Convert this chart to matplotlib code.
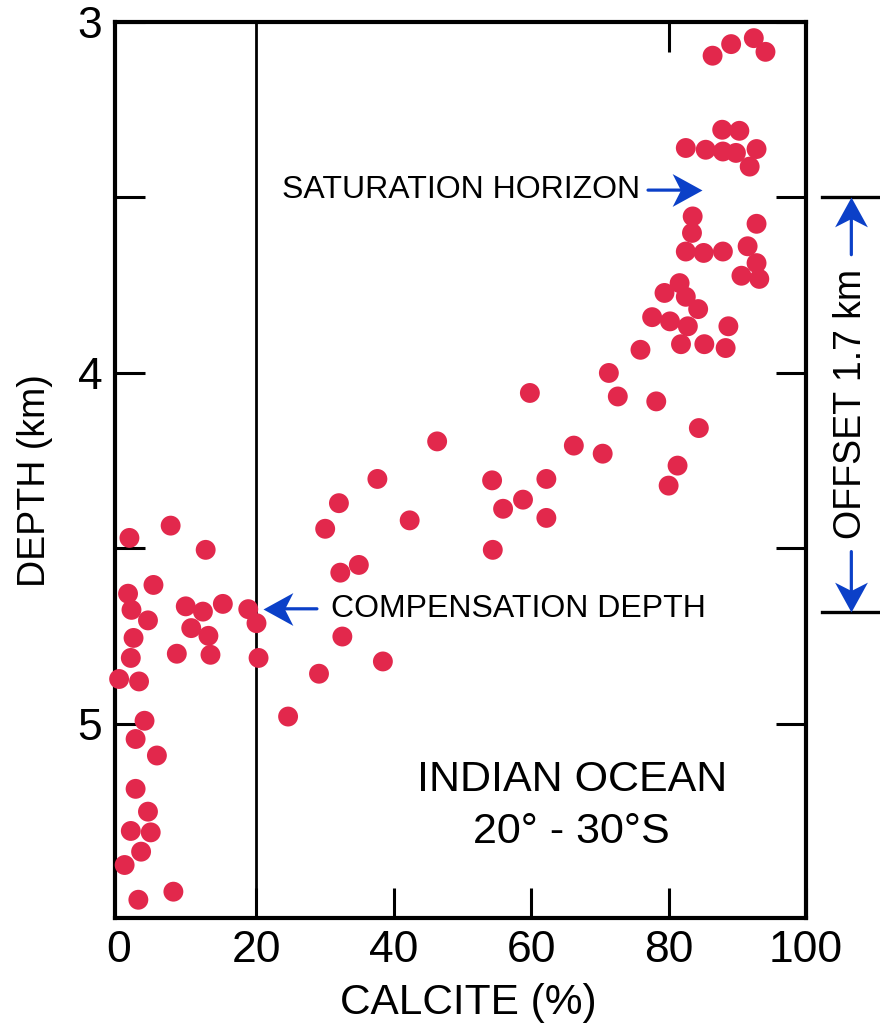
import matplotlib
matplotlib.use("Agg")
import matplotlib.pyplot as plt
from matplotlib.path import Path
from matplotlib.markers import MarkerStyle

plt.rcParams["font.family"] = ["Liberation Sans", "DejaVu Sans"]

# Calcite content (%) of core-top sediments and water depth (km)
calcite = [
    86.4, 89.1, 92.4, 94.1,
    87.8, 90.3, 82.5, 85.4, 87.9, 89.8, 92.8, 91.8,
    83.5, 83.4, 82.5, 85.1, 87.9, 92.8, 91.5, 92.8, 90.6, 93.2,
    81.6, 79.4, 82.5, 84.3, 77.6, 80.2, 82.8, 88.7,
    75.9, 81.8, 85.2, 88.3,
    71.3, 72.6, 78.2, 66.2, 70.4, 84.4, 81.3, 80.0,
    59.8, 46.3, 37.6, 54.3, 62.2, 58.8, 55.9, 62.2,
    32.0, 42.3, 30.0, 54.4, 32.2, 34.9,
    1.5, 7.5, 12.6, 5.0, 1.3, 9.7, 15.1, 18.8, 1.8, 4.2,
    2.1, 1.7, 0.0, 2.9, 8.4, 13.3, 13.0, 10.5, 12.2, 20.0,
    20.3, 32.5, 29.1, 24.6, 38.4,
    3.7, 2.4, 5.5, 2.4, 4.2, 1.7, 4.6, 3.2, 0.8, 7.9, 2.8,
]
depth = [
    3.096, 3.063, 3.046, 3.085,
    3.307, 3.310, 3.359, 3.364, 3.369, 3.373, 3.362, 3.412,
    3.554, 3.601, 3.654, 3.658, 3.654, 3.575, 3.639, 3.687, 3.723, 3.732,
    3.744, 3.772, 3.783, 3.818, 3.841, 3.853, 3.867, 3.867,
    3.934, 3.918, 3.918, 3.929,
    4.000, 4.067, 4.081, 4.207, 4.230, 4.157, 4.264, 4.321,
    4.057, 4.195, 4.302, 4.306, 4.302, 4.361, 4.387, 4.413,
    4.371, 4.420, 4.444, 4.504, 4.569, 4.547,
    4.470, 4.435, 4.504, 4.604, 4.629, 4.665, 4.658, 4.673, 4.675, 4.705,
    4.755, 4.812, 4.872, 4.879, 4.800, 4.803, 4.749, 4.727, 4.680, 4.713,
    4.812, 4.751, 4.857, 4.979, 4.822,
    4.991, 5.043, 5.090, 5.185, 5.250, 5.305, 5.309, 5.364, 5.402, 5.478, 5.501,
]

x_ticks = [0, 20, 40, 60, 80, 100]
top_ticks = [80]
y_major = [3, 4, 5]
y_minor = [3.5, 4.5]

saturation_horizon = 3.5      # km
compensation_depth = 4.68     # km
critical_calcite = 20         # %

DOT = "#E2284C"
BLUE = "#0B40C8"
TICK_LEN = 21.5   # points
TICK_W = 2.2

fig = plt.figure(figsize=(8.8, 10.32), dpi=100)
ax = fig.add_axes([115 / 880, 1 - 918 / 1032, 691 / 880, 896 / 1032])

ax.scatter(calcite, depth, s=205, color=DOT, edgecolors="none",
           zorder=3, clip_on=False)
ax.axvline(critical_calcite, color="black", lw=2.0, zorder=2)

ax.set_xlim(-0.6, 100)
ax.set_ylim(5.553, 3.0)
ax.set_xticks(x_ticks)
ax.set_yticks(y_major)
ax.set_yticks(y_minor, minor=True)
ax.set_yticklabels([str(v) for v in y_major])
ax.tick_params(which="both", direction="in", length=TICK_LEN, width=TICK_W,
               right=True, top=False, labelsize=32, pad=9)
ax.xaxis.get_major_ticks()[0].tick1line.set_visible(False)
for s in ax.spines.values():
    s.set_linewidth(3.0)

# tick mark hanging from the upper frame
frac = TICK_LEN * fig.dpi / 72 / (ax.get_position().height * fig.bbox.height)
for xt in top_ticks:
    ax.plot([xt, xt], [1, 1 - frac], transform=ax.get_xaxis_transform(),
            color="black", lw=TICK_W, solid_capstyle="butt", clip_on=False)

ax.text(-0.116, 0.488, "DEPTH (km)", transform=ax.transAxes, rotation=90,
        ha="center", va="center", fontsize=27)
ax.text(0.511, -0.095, "CALCITE (%)", transform=ax.transAxes,
        ha="center", va="center", fontsize=30.5)


def head(x, y, angle):
    verts = [(0, 0), (-1, 0.55), (-0.72, 0), (-1, -0.55), (0, 0)]
    codes = [Path.MOVETO, Path.LINETO, Path.LINETO, Path.LINETO, Path.CLOSEPOLY]
    m = MarkerStyle(Path(verts, codes)).rotated(deg=angle)
    ax.plot([x], [y], marker=m, markersize=43, color=BLUE,
            markeredgewidth=0, clip_on=False, zorder=5)


def arrow(tail, tip, angle):
    ax.annotate("", xy=tip, xytext=tail,
                arrowprops=dict(arrowstyle="-", color=BLUE, lw=2.3,
                                shrinkA=0, shrinkB=12),
                annotation_clip=False, zorder=5)
    head(tip[0], tip[1], angle)


# saturation horizon
ax.text(75.8, 3.478, "SATURATION HORIZON", ha="right", va="center", fontsize=23)
arrow((77.0, 3.479), (84.9, 3.479), 0)

# compensation depth
ax.text(30.9, 4.672, "COMPENSATION DEPTH", ha="left", va="center", fontsize=23)
arrow((28.8, 4.672), (20.9, 4.672), 180)

# offset bracket beside the axes
xb = 106.6
for yb in (saturation_horizon, compensation_depth):
    ax.plot([102.4, 111.5], [yb, yb], color="black", lw=2.4, clip_on=False)
arrow((xb, 3.663), (xb, saturation_horizon), 90)
arrow((xb, 4.509), (xb, compensation_depth), -90)
ax.text(xb, 4.088, "OFFSET 1.7 km", rotation=90, ha="center", va="center",
        fontsize=27)

ax.text(65.9, 5.159, "INDIAN OCEAN", ha="center", va="center", fontsize=31)
ax.text(65.9, 5.307, "20° - 30°S", ha="center", va="center", fontsize=31)

fig.savefig("out.png", dpi=100, facecolor="white")
